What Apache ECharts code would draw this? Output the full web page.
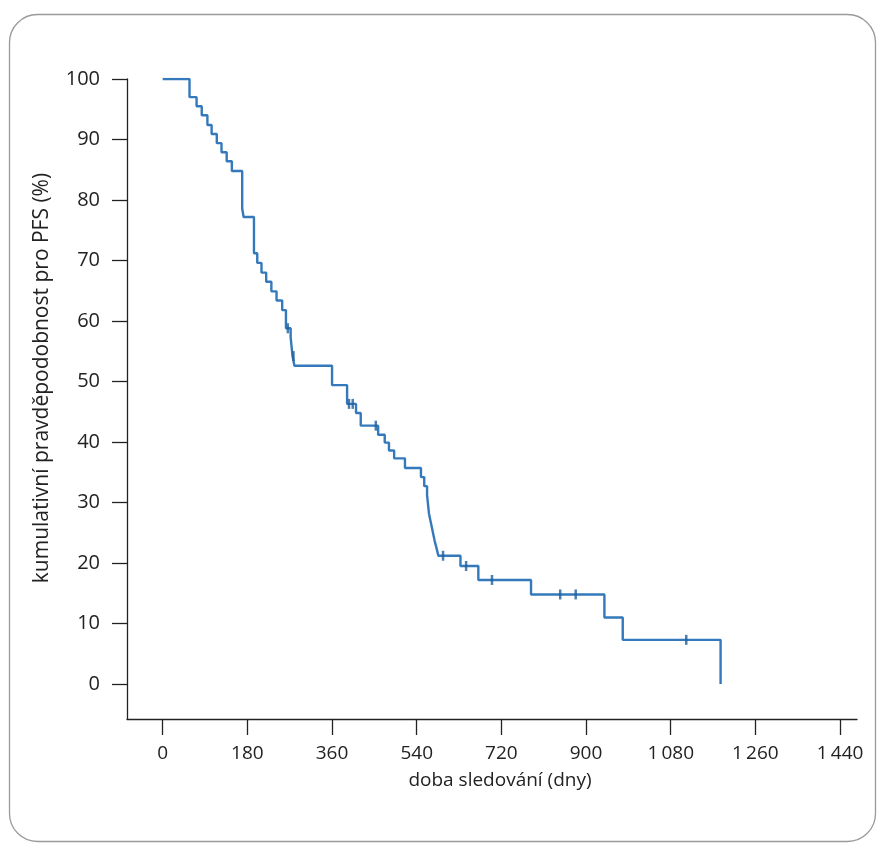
<!DOCTYPE html>
<html>
<head>
<meta charset="utf-8">
<script src="https://cdn.jsdelivr.net/npm/echarts@6/dist/echarts.min.js"></script>
<style>
  html, body { margin: 0; padding: 0; background: #ffffff; }
  #chart { width: 885px; height: 843px; }
</style>
</head>
<body>
<div id="chart"></div>
<script>
// Kaplan–Meier step points: day of event and survival (%) after it
const eventDays = [0, 57, 72, 83, 95, 104, 115, 125, 136, 147, 169, 172, 194,
  201, 210, 220, 231, 242, 254, 262, 272, 276, 280, 360, 392, 411, 421, 458,
  472, 481, 492, 515, 549, 556, 562, 566, 570, 574, 578, 582, 586, 633, 671,
  783, 939, 978, 1186];
const survival = [100, 97.0, 95.5, 94.0, 92.4, 90.9, 89.4, 87.9, 86.4, 84.8,
  78.6, 77.2, 71.2, 69.6, 68.0, 66.5, 64.9, 63.4, 61.8, 58.8, 57.3, 54.2, 52.6,
  49.4, 46.3, 44.8, 42.7, 41.2, 39.9, 38.6, 37.3, 35.7, 34.2, 32.7, 31.2, 28.2,
  26.7, 25.2, 23.7, 22.5, 21.2, 19.5, 17.2, 14.8, 11.0, 7.3, 0];
// Censored observations
const censorDays = [266, 278, 396, 404, 453, 596, 645, 700, 845, 878, 1113];
const censorVals = [58.8, 54.2, 46.3, 46.3, 42.7, 21.2, 19.5, 17.2, 14.8, 14.8, 7.3];
// Axis tick labels
const xTicks = [0, 180, 360, 540, 720, 900, 1080, 1260, 1440];
const yTicks = [0, 10, 20, 30, 40, 50, 60, 70, 80, 90, 100];
const xTitle = 'doba sledování (dny)';
const yTitle = 'kumulativní pravděpodobnost pro PFS (%)';

const lineData = eventDays.map((d, i) => [d, survival[i]]);
const censorData = censorDays.map((d, i) => [d, censorVals[i]]);

const FONT = 'Open Sans';
const chart = echarts.init(document.getElementById('chart'), null, { renderer: 'canvas' });
chart.setOption({
  animation: false,
  backgroundColor: '#ffffff',
  grid: { left: 127, top: 79, right: 28, bottom: 124, containLabel: false },
  xAxis: {
    type: 'value',
    min: -75.9,
    max: 1476,
    splitLine: { show: false },
    axisLine: { show: true, onZero: false, lineStyle: { color: '#222', width: 1.3 } },
    axisTick: { show: true, customValues: xTicks, length: 16, inside: false,
      lineStyle: { color: '#222', width: 1.3 } },
    axisLabel: {
      customValues: xTicks,
      margin: 25,
      color: '#222',
      fontFamily: FONT,
      fontSize: 19,
      formatter: v => v >= 1000 ? Math.floor(v / 1000) + '\u2009' + String(v % 1000).padStart(3, '0') : String(v)
    }
  },
  yAxis: {
    type: 'value',
    min: -5.785,
    max: 100,
    splitLine: { show: false },
    axisLine: { show: true, onZero: false, lineStyle: { color: '#222', width: 1.3 } },
    axisTick: { show: true, customValues: yTicks, length: 15, inside: false,
      lineStyle: { color: '#222', width: 1.3 } },
    axisLabel: {
      customValues: yTicks,
      margin: 27,
      color: '#222',
      fontFamily: FONT,
      fontSize: 20
    }
  },
  graphic: [
    {
      type: 'rect', z: -10, silent: true,
      shape: { x: 9.5, y: 14.5, width: 866, height: 827, r: 28 },
      style: { fill: 'none', stroke: '#9a9a9a', lineWidth: 1.3 }
    },
    {
      type: 'text', silent: true,
      x: 500, y: 781,
      style: { text: xTitle, fill: '#222', font: '19px "Open Sans"', align: 'center', verticalAlign: 'middle' }
    },
    {
      type: 'text', silent: true,
      rotation: Math.PI / 2,
      x: 42, y: 378,
      style: { text: yTitle, fill: '#222', font: '21px "Open Sans"', align: 'center', verticalAlign: 'middle' }
    }
  ],
  series: [
    {
      type: 'line',
      step: 'end',
      data: lineData,
      symbol: 'none',
      lineStyle: { color: '#3379bb', width: 2.4 },
      z: 3
    },
    {
      type: 'scatter',
      data: censorData,
      symbol: 'rect',
      symbolSize: [2.5, 10],
      itemStyle: { color: '#1f5f9c' },
      z: 4
    }
  ]
});
</script>
</body>
</html>
